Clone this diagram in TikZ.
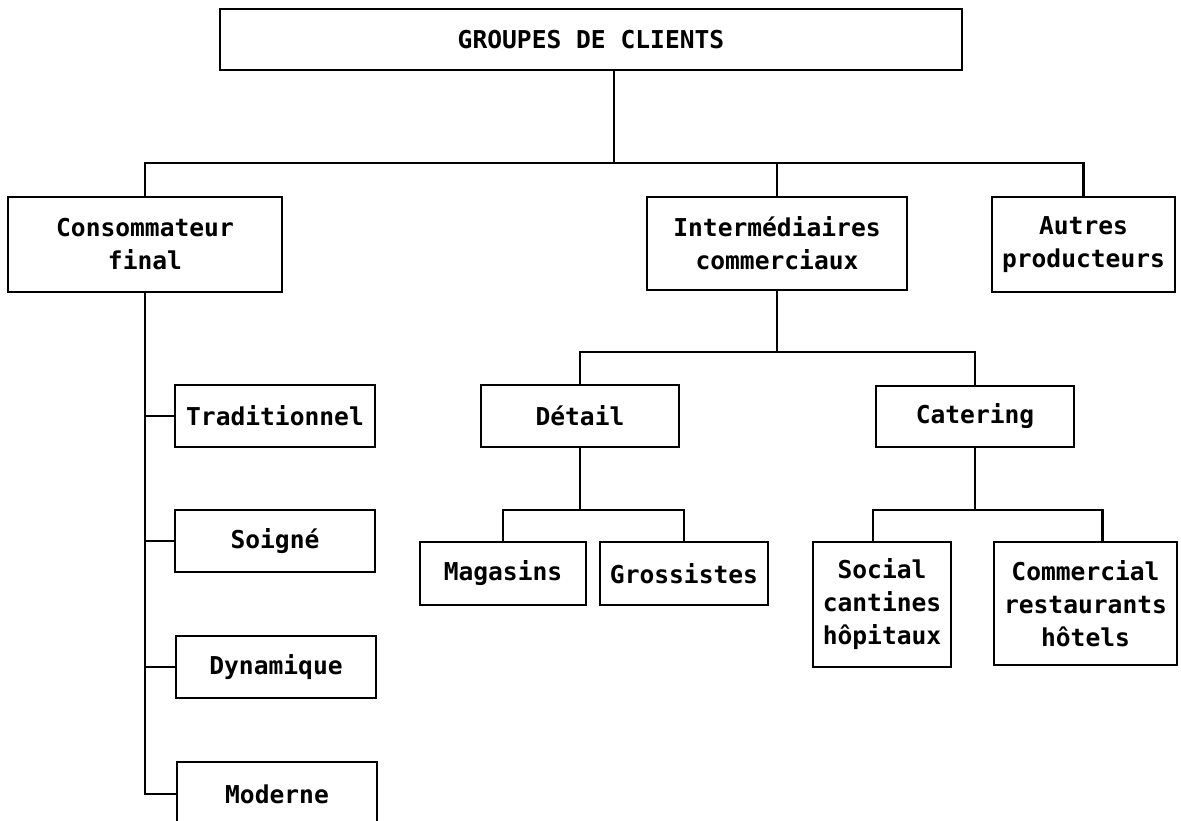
\documentclass[tikz,border=0pt]{standalone}
\usepackage{fontspec}
\setmonofont{DejaVu Sans Mono}

\tikzset{
    box/.style={draw, line width=1.6pt, inner sep=0pt, align=center,
        font=\fontsize{14}{18.8}\selectfont\ttfamily\bfseries},
    link/.style={line width=1.6pt}
}

\begin{document}
\begin{tikzpicture}[x=0.02cm, y=-0.02cm]
    \useasboundingbox (0,0) rectangle (1181,821);

    \node[box, minimum width=14.84cm, minimum height=1.22cm] (root) at (591,39.5) {GROUPES DE CLIENTS};

    \node[box, minimum width=5.48cm, minimum height=1.9cm] (cons) at (145,244.5) {Consommateur\\final};
    \node[box, minimum width=5.2cm, minimum height=1.86cm] (inter) at (777,243.5) {Intermédiaires\\commerciaux};
    \node[box, minimum width=3.66cm, minimum height=1.9cm] (autres) at (1083.5,244.5) {Autres\\producteurs};

    \node[box, minimum width=4cm, minimum height=1.24cm] (trad) at (275,416) {Traditionnel};
    \node[box, minimum width=4cm, minimum height=1.24cm] (soigne) at (275,541) {Soigné};
    \node[box, minimum width=4cm, minimum height=1.24cm] (dyn) at (276,667) {Dynamique};
    \node[box, minimum width=4cm, minimum height=1.28cm] (mod) at (277,794) {Moderne};

    \node[box, minimum width=3.96cm, minimum height=1.24cm] (detail) at (580,416) {Détail};
    \node[box, minimum width=3.96cm, minimum height=1.22cm] (catering) at (975,416.5) {Catering};

    \node[box, minimum width=3.32cm, minimum height=1.26cm] (magasins) at (503,573.5) {Magasins};
    \node[box, minimum width=3.36cm, minimum height=1.26cm] (grossistes) at (684,573.5) {Grossistes};
    \node[box, minimum width=2.76cm, minimum height=2.5cm] (social) at (882,604.5) {Social\\cantines\\hôpitaux};
    \node[box, minimum width=3.66cm, minimum height=2.46cm] (commercial) at (1085.5,603.5) {Commercial\\restaurants\\hôtels};

    % first level
    \coordinate (j0) at (614,163);
    \draw[link] (root.south -| j0) -- (j0);
    \draw[link] (cons.north) |- (j0) -| (autres.north);
    \draw[link] (inter.north) -- (inter.north |- j0);

    % consommateur final
    \draw[link] (cons.south) -- (cons.south |- mod.west) -- (mod.west);
    \foreach \n in {trad,soigne,dyn}
        \draw[link] (cons.south |- \n.west) -- (\n.west);

    % intermediaires
    \coordinate (j1) at (777,352);
    \draw[link] (inter.south) -- (j1);
    \draw[link] (detail.north) |- (j1) -| (catering.north);

    \coordinate (j2) at (580,510);
    \draw[link] (detail.south) -- (j2);
    \draw[link] (magasins.north) |- (j2) -| (grossistes.north);

    \coordinate (j3) at (975,510);
    \draw[link] (catering.south) -- (j3);
    \draw[link] ([xshift=-0.18cm]social.north) |- (j3) -| ([xshift=0.34cm]commercial.north);
\end{tikzpicture}
\end{document}
